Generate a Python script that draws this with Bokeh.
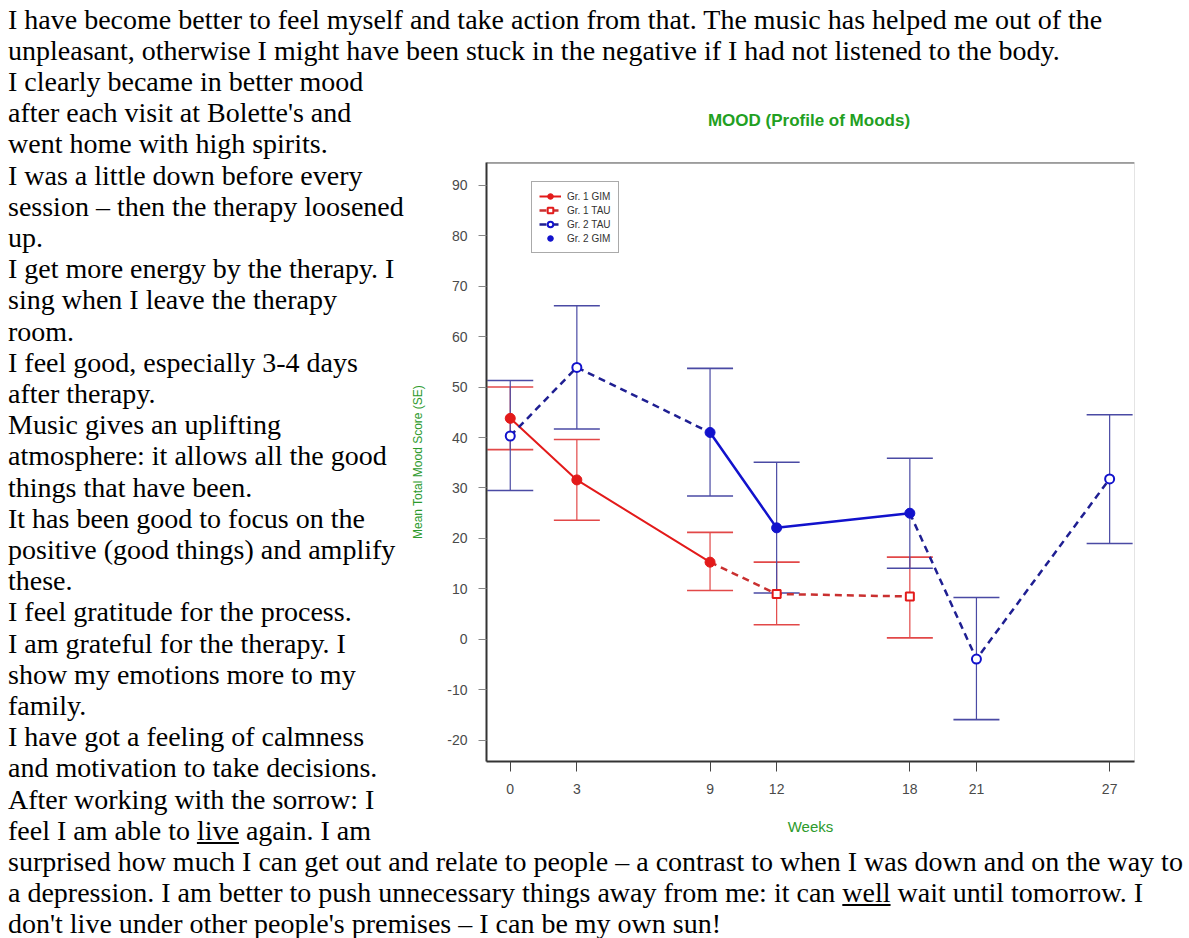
from bokeh.plotting import figure
from bokeh.models import (Div, Whisker, TeeHead, ColumnDataSource, FixedTicker,
                          Span, Legend, LegendItem, Range1d,
                          PrintfTickFormatter)
from bokeh.layouts import column, row
from bokeh.embed import file_html
from bokeh.resources import INLINE

# ---------------- text ----------------
top_lines = [
    "I have become better to feel myself and take action from that. The music has helped me out of the",
    "unpleasant, otherwise I might have been stuck in the negative if I had not listened to the body.",
]
left_lines = [
    "I clearly became in better mood",
    "after each visit at Bolette's and",
    "went home with high spirits.",
    "I was a little down before every",
    "session \u2013 then the therapy loosened",
    "up.",
    "I get more energy by the therapy. I",
    "sing when I leave the therapy",
    "room.",
    "I feel good, especially 3-4 days",
    "after therapy.",
    "Music gives an uplifting",
    "atmosphere: it allows all the good",
    "things that have been.",
    "It has been good to focus on the",
    "positive (good things) and amplify",
    "these.",
    "I feel gratitude for the process.",
    "I am grateful for the therapy. I",
    "show my emotions more to my",
    "family.",
    "I have got a feeling of calmness",
    "and motivation to take decisions.",
    "After working with the sorrow: I",
    "feel I am able to <u>live</u> again. I am",
]
bottom_lines = [
    "surprised how much I can get out and relate to people \u2013 a contrast to when I was down and on the way to",
    "a depression. I am better to push unnecessary things away from me: it can <u>well</u> wait until tomorrow. I",
    "don't live under other people's premises \u2013 I can be my own sun!",
]

# ---------------- chart data ----------------
chart_title = "MOOD (Profile of Moods)"
x_label = "Weeks"
y_label = "Mean Total Mood Score (SE)"
tick_weeks = [0, 3, 9, 12, 18, 21, 27]
y_ticks = [-20, -10, 0, 10, 20, 30, 40, 50, 60, 70, 80, 90]

gr1_gim_weeks = [0, 3, 9]
gr1_gim_mean = [43.8, 31.6, 15.3]
gr1_gim_lower = [37.6, 23.6, 9.7]
gr1_gim_upper = [50.0, 39.6, 21.2]

gr1_tau_weeks = [12, 18]
gr1_tau_mean = [9.0, 8.5]
gr1_tau_lower = [2.9, 0.3]
gr1_tau_upper = [15.3, 16.3]

gr2_tau_weeks = [0, 3, 21, 27]
gr2_tau_mean = [40.3, 53.9, -3.9, 31.8]
gr2_tau_lower = [29.5, 41.7, -15.9, 19.0]
gr2_tau_upper = [51.3, 66.1, 8.3, 44.5]

gr2_gim_weeks = [9, 12, 18]
gr2_gim_mean = [41.0, 22.1, 25.0]
gr2_gim_lower = [28.4, 9.2, 14.1]
gr2_gim_upper = [53.7, 35.1, 35.9]

legend_labels = ["Gr. 1 GIM", "Gr. 1 TAU", "Gr. 2 TAU", "Gr. 2 GIM"]

# ---------------- styles ----------------
RED = "#e31a1a"
RED_DASH = "#c93030"
RED_ERR = "#e24848"
BLUE = "#1212cc"
BLUE_DASH = "#1f1f92"
BLUE_ERR = "#4a4aa4"
GREEN = "#2c9a2c"
SANS = "Liberation Sans"

LINE_H = 31.2
text_style = {
    "font-family": "'Liberation Serif', 'Times New Roman', serif",
    "font-size": "28px",
    "line-height": "%.1fpx" % LINE_H,
    "white-space": "nowrap",
    "color": "#000000",
}

x_rng = Range1d(-1.07, 28.12)
y_rng = Range1d(-24.2, 94.5)

p = figure(width=746, height=688, x_range=x_rng, y_range=y_rng,
           output_backend="svg", toolbar_location=None,
           min_border_left=76, min_border_right=20,
           min_border_top=4, min_border_bottom=85)
p.background_fill_color = "white"
p.border_fill_color = "white"
p.outline_line_color = "#e4e4e4"
p.outline_line_width = 1
p.grid.visible = False

# axes
p.xaxis.ticker = FixedTicker(ticks=tick_weeks)
p.yaxis.ticker = FixedTicker(ticks=y_ticks)
for ax in (p.xaxis[0], p.yaxis[0]):
    ax.formatter = PrintfTickFormatter(format="%d")
    ax.axis_line_color = "#333333"
    ax.axis_line_width = 2
    ax.minor_tick_line_color = None
    ax.major_tick_in = 0
    ax.major_label_text_font = SANS
    ax.major_label_text_font_size = "14px"
    ax.major_label_text_color = "#4a4a4a"
    ax.axis_label_text_font = SANS
    ax.axis_label_text_font_style = "normal"
    ax.axis_label_text_color = GREEN
p.xaxis.major_tick_out = 10
p.xaxis.major_tick_line_color = "#444444"
p.xaxis.major_label_standoff = 12
p.xaxis.axis_label = x_label
p.xaxis.axis_label_text_font_size = "15px"
p.xaxis.axis_label_standoff = 21
p.yaxis.major_tick_out = 8
p.yaxis.major_tick_line_color = "#888888"
p.yaxis.major_label_standoff = 11
p.yaxis.major_label_orientation = "horizontal"
p.yaxis.axis_label = y_label
p.yaxis.axis_label_text_font_size = "12px"
p.yaxis.axis_label_standoff = 19

# top border of the box (dark)
p.add_layout(Span(location=y_rng.end, dimension="width",
                  line_color="#555555", line_width=2))


def add_err(weeks, lower, upper, color):
    src = ColumnDataSource(dict(x=weeks, lo=lower, up=upper))
    w = Whisker(source=src, base="x", lower="lo", upper="up",
                dimension="height", line_color=color, line_width=1.2,
                upper_head=TeeHead(size=46, line_color=color, line_width=1.6),
                lower_head=TeeHead(size=46, line_color=color, line_width=1.6))
    p.add_layout(w)


add_err(gr1_gim_weeks, gr1_gim_lower, gr1_gim_upper, RED_ERR)
add_err(gr1_tau_weeks, gr1_tau_lower, gr1_tau_upper, RED_ERR)
add_err(gr2_tau_weeks, gr2_tau_lower, gr2_tau_upper, BLUE_ERR)
add_err(gr2_gim_weeks, gr2_gim_lower, gr2_gim_upper, BLUE_ERR)

# connecting lines
r1_line = p.line(gr1_gim_weeks, gr1_gim_mean, line_color=RED, line_width=2)
r2_line = p.line([gr1_gim_weeks[-1]] + gr1_tau_weeks,
                 [gr1_gim_mean[-1]] + gr1_tau_mean,
                 line_color=RED_DASH, line_width=2.5, line_dash="7 5")
b_dash_xs = [gr2_tau_weeks[:2] + [gr2_gim_weeks[0]],
             [gr2_gim_weeks[-1]] + gr2_tau_weeks[2:]]
b_dash_ys = [gr2_tau_mean[:2] + [gr2_gim_mean[0]],
             [gr2_gim_mean[-1]] + gr2_tau_mean[2:]]
b1_line = p.multi_line(b_dash_xs, b_dash_ys, line_color=BLUE_DASH,
                       line_width=2.5, line_dash="7 5")
b2_line = p.line(gr2_gim_weeks, gr2_gim_mean, line_color=BLUE, line_width=2.5)

# markers
r1_pts = p.scatter(gr1_gim_weeks, gr1_gim_mean, marker="circle", size=10,
                   fill_color=RED, line_color=RED)
r2_pts = p.scatter(gr1_tau_weeks, gr1_tau_mean, marker="square", size=8,
                   fill_color="white", line_color=RED, line_width=2)
b1_pts = p.scatter(gr2_tau_weeks, gr2_tau_mean, marker="circle", size=9,
                   fill_color="white", line_color=BLUE, line_width=2)
b2_pts = p.scatter(gr2_gim_weeks, gr2_gim_mean, marker="circle", size=10,
                   fill_color=BLUE, line_color=BLUE)

legend = Legend(items=[
    LegendItem(label=legend_labels[0], renderers=[r1_line, r1_pts]),
    LegendItem(label=legend_labels[1], renderers=[r2_line, r2_pts]),
    LegendItem(label=legend_labels[2], renderers=[b1_line, b1_pts]),
    LegendItem(label=legend_labels[3], renderers=[b2_pts]),
], location=(45, 508))
legend.label_text_font = SANS
legend.label_text_font_size = "10px"
legend.label_text_color = "#333333"
legend.label_height = 14
legend.glyph_height = 14
legend.glyph_width = 22
legend.label_standoff = 6
legend.spacing = 0
legend.padding = 7
legend.margin = 0
legend.border_line_color = "#555555"
legend.border_line_width = 1
legend.background_fill_color = "white"
p.add_layout(legend)

# chart title (centred over the plot frame)
frame_center = 76 + (746 - 76 - 20) / 2
title_div = Div(
    text='<div style="width:%dpx;text-align:center;padding-top:45px;'
         'line-height:20px;">%s</div>' % (int(2 * frame_center), chart_title),
    width=746, height=92, margin=0,
    styles={"font-family": "'Liberation Sans', Arial, sans-serif",
            "font-size": "17px", "font-weight": "bold",
            "color": "#22a022", "white-space": "nowrap"})

# ---------------- page ----------------
top = Div(text="<br>".join(top_lines), width=1173, height=62, margin=0,
          styles=text_style)
left = Div(text="<br>".join(left_lines), width=400, height=780, margin=0,
           styles=text_style)
bottom = Div(text="<br>".join(bottom_lines), width=1173, height=90, margin=0,
             styles=text_style)

page = column(top,
              row(left, column(title_div, p, spacing=0), spacing=0),
              bottom, spacing=0, margin=(4, 0, 0, 8))

with open("out.html", "w") as f:
    f.write(file_html(page, INLINE, title="MOOD"))
